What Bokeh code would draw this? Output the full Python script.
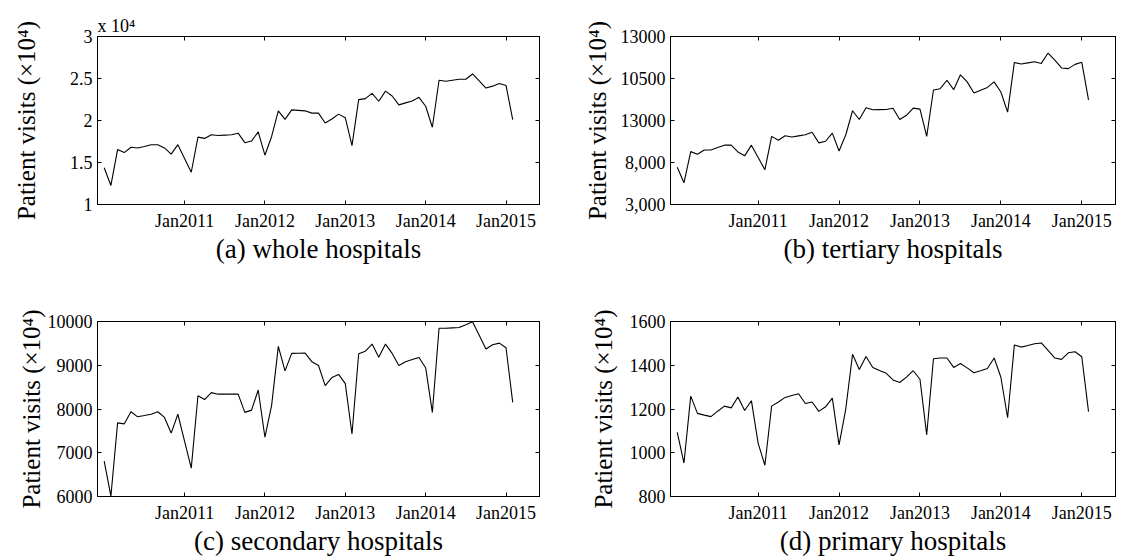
from bokeh.plotting import figure
from bokeh.layouts import column, row
from bokeh.models import FixedTicker, LinearAxis, Range1d
from bokeh.embed import file_html
from bokeh.resources import INLINE

# month index 1 = Jan 2010 ... 62 = Feb 2015
month_index = list(range(1, 63))
x_tick_positions = [13, 25, 37, 49, 61]
x_tick_labels = ["Jan2011", "Jan2012", "Jan2013", "Jan2014", "Jan2015"]

# (a) whole hospitals, x 10^4
whole = [1.438, 1.227, 1.654, 1.618, 1.681, 1.673, 1.690, 1.712, 1.712, 1.673, 1.599, 1.712, 1.548, 1.384,
         1.802, 1.787, 1.830, 1.822, 1.826, 1.830, 1.849, 1.736, 1.755, 1.865, 1.587,
         1.810, 2.115, 2.014, 2.127, 2.121, 2.115, 2.088, 2.088, 1.971, 2.018, 2.076, 2.033, 1.701,
         2.249, 2.260, 2.323, 2.229, 2.350, 2.292, 2.186, 2.210, 2.233, 2.276, 2.170, 1.920,
         2.479, 2.468, 2.480, 2.491, 2.491, 2.554, 2.472, 2.386, 2.409, 2.440, 2.417, 2.010]

# (b) tertiary hospitals
tertiary = [5220, 4293, 6147, 5992, 6243, 6243, 6390, 6533, 6533, 6127, 5896, 6533, 5800, 5066,
            7054, 6822, 7093, 7015, 7083, 7151, 7305, 6668, 6765, 7247, 6185,
            7151, 8579, 8058, 8760, 8637, 8646, 8656, 8734, 8058, 8309, 8734, 8676, 7054,
            9815, 9892, 10394, 9834, 10722, 10297, 9641, 9805, 9969, 10297, 9699, 8502,
            11456, 11359, 11430, 11494, 11398, 12015, 11591, 11127, 11089, 11340, 11462, 9231]

# (c) secondary hospitals
secondary = [6809, 6007, 7683, 7661, 7938, 7821, 7850, 7880, 7938, 7807, 7450, 7880, 7264, 6648,
             8302, 8215, 8375, 8339, 8339, 8339, 8339, 7923, 7974, 8434, 7355,
             8084, 9432, 8871, 9271, 9275, 9279, 9082, 8995, 8535, 8718, 8791, 8579, 7428,
             9264, 9322, 9483, 9184, 9483, 9271, 8995, 9082, 9130, 9177, 8944, 7923,
             9847, 9847, 9855, 9862, 9927, 9993, 9687, 9373, 9468, 9505, 9400, 8150]

# (d) primary hospitals
primary = [1093, 953, 1259, 1180, 1172, 1165, 1190, 1213, 1205, 1255, 1193, 1238, 1043, 943,
           1213, 1232, 1253, 1262, 1270, 1225, 1232, 1189, 1210, 1250, 1036,
           1201, 1450, 1381, 1440, 1390, 1376, 1363, 1333, 1321, 1346, 1375, 1336, 1082,
           1430, 1433, 1433, 1390, 1408, 1388, 1366, 1375, 1385, 1433, 1345, 1160,
           1493, 1483, 1490, 1498, 1502, 1468, 1433, 1427, 1457, 1462, 1439, 1188]

a_ticks = [1, 1.5, 2, 2.5, 3]
a_labels = ["1", "1.5", "2", "2.5", "3"]
b_ticks = [3000, 5500, 8000, 10500, 13000]
b_labels = ["3,000", "8,000", "13000", "10500", "13000"]
c_ticks = [6000, 7000, 8000, 9000, 10000]
c_labels = ["6000", "7000", "8000", "9000", "10000"]
d_ticks = [800, 1000, 1200, 1400, 1600]
d_labels = ["800", "1000", "1200", "1400", "1600"]

ylabel = "Patient visits (\u00d710\u2074)"
FONT = "Liberation Serif"


def style_axis(ax, ticks, labels):
    ax.ticker = FixedTicker(ticks=ticks)
    ax.major_label_overrides = {t: l for t, l in zip(ticks, labels)}
    ax.major_tick_in = 4
    ax.major_tick_out = 0
    ax.minor_tick_line_color = None
    ax.axis_line_color = "black"
    ax.major_tick_line_color = "black"
    ax.major_label_text_font = FONT
    ax.major_label_text_color = "black"
    ax.major_label_text_font_size = "18px"


def mirror_axis(ticks):
    # mirrored box ticks with no labels (ticks drawn as minor ticks)
    ax = LinearAxis(ticker=FixedTicker(ticks=[], minor_ticks=ticks))
    ax.minor_tick_in = 4
    ax.minor_tick_out = 0
    ax.minor_tick_line_color = "black"
    ax.major_tick_line_color = None
    ax.axis_line_color = "black"
    ax.major_label_standoff = 0
    return ax


def make_panel(y, yr, yticks, ylabels, title, w, h, bl, br, bt, bb, ylab_standoff):
    p = figure(width=w, height=h, x_range=Range1d(0, 66), y_range=Range1d(*yr),
               output_backend="svg", toolbar_location=None, tools="",
               min_border_left=bl, min_border_right=br,
               min_border_top=bt, min_border_bottom=bb)
    p.line(month_index, y, line_color="black", line_width=1.1)
    p.xgrid.visible = False
    p.ygrid.visible = False
    p.outline_line_color = "black"
    p.outline_line_width = 1
    p.background_fill_color = "white"
    p.border_fill_color = "white"

    xa = p.xaxis[0]
    style_axis(xa, x_tick_positions, x_tick_labels)
    xa.major_label_standoff = 6
    xa.axis_label = title
    xa.axis_label_text_font = FONT
    xa.axis_label_text_font_style = "normal"
    xa.axis_label_text_font_size = "27px"
    xa.axis_label_text_color = "black"
    xa.axis_label_standoff = 0

    ya = p.yaxis[0]
    style_axis(ya, yticks, ylabels)
    ya.major_label_standoff = 5
    ya.axis_label = ylabel
    ya.axis_label_text_font = FONT
    ya.axis_label_text_font_style = "normal"
    ya.axis_label_text_font_size = "25px"
    ya.axis_label_text_color = "black"
    ya.axis_label_standoff = ylab_standoff

    p.add_layout(mirror_axis(x_tick_positions), "above")
    p.add_layout(mirror_axis(yticks), "right")
    return p


pa = make_panel(whole, (1, 3), a_ticks, a_labels, "(a) whole hospitals",
                560, 290, 97, 21, 33, 86, 27)
pa.title.text = "x 10\u2074"
pa.title.text_font = FONT
pa.title.text_font_size = "18px"
pa.title.text_font_style = "normal"
pa.title.text_color = "black"
pa.title.align = "left"
pa.title.standoff = 1

pb = make_panel(tertiary, (3000, 13000), b_ticks, b_labels, "(b) tertiary hospitals",
                565, 290, 110, 10, 36, 81, 7)
pc = make_panel(secondary, (6000, 10000), c_ticks, c_labels, "(c) secondary hospitals",
                560, 268, 97, 21, 27, 58, 0)
pd = make_panel(primary, (800, 1600), d_ticks, d_labels, "(d) primary hospitals",
                565, 268, 110, 10, 31, 59, 10)

layout = column(row(pa, pb), row(pc, pd))
open("out.html", "w").write(file_html(layout, INLINE))
